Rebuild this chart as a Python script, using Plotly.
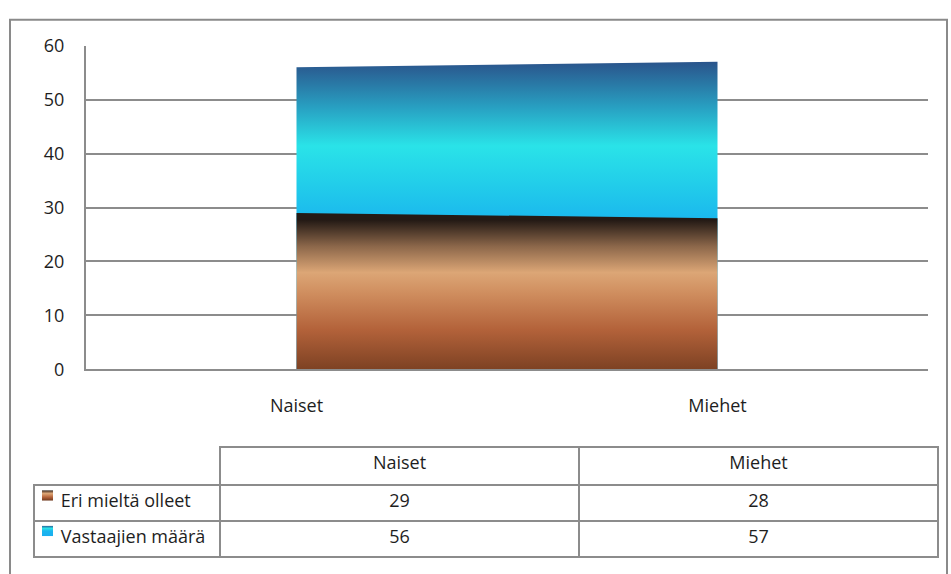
import base64
import plotly.graph_objects as go

categories = ["Naiset", "Miehet"]
series_names = ["Eri mieltä olleet", "Vastaajien määrä"]
eri_mielta = [29, 28]
vastaajat = [56, 57]
y_ticks = [0, 10, 20, 30, 40, 50, 60]

W, H = 951, 574
FONT = "Open Sans"
FS = 18
GRID = "#8c8c8c"
TXT = "#1e1e1e"
CLEAR = "rgba(0,0,0,0)"

def px(x):
    return x / W

def py(y):
    return 1 - y / H

blue_scale = [
    [0.0, "#1aaef0"],
    [0.50, "#1ab6ee"],
    [0.62, "#22cdea"],
    [0.74, "#2ae3e8"],
    [0.86, "#28a0c2"],
    [1.0, "#2a558c"],
]
brown_scale = [
    [0.0, "#6a361b"],
    [0.33, "#b3623a"],
    [0.55, "#cf8d5e"],
    [0.68, "#dca676"],
    [0.84, "#8c674a"],
    [1.0, "#241a15"],
]

fig = go.Figure()
fig.add_trace(go.Scatter(
    x=categories, y=vastaajat, name=series_names[1], mode="lines",
    line=dict(width=0), fill="tozeroy",
    fillgradient=dict(type="vertical", colorscale=blue_scale, start=0, stop=max(vastaajat)),
))
fig.add_trace(go.Scatter(
    x=categories, y=eri_mielta, name=series_names[0], mode="lines",
    line=dict(width=0), fill="tozeroy",
    fillgradient=dict(type="vertical", colorscale=brown_scale, start=0, stop=max(eri_mielta)),
))

NB = "\u00a0" * 4
row_labels = [NB + n for n in series_names]
col_values = [row_labels] + [[str(eri_mielta[i]), str(vastaajat[i])] for i in range(len(categories))]

fig.add_trace(go.Table(
    domain=dict(x=[px(34), px(938)], y=[py(572), py(453)]),
    columnwidth=[186, 359, 359],
    header=dict(
        values=[""] + categories,
        height=38,
        line=dict(color=[CLEAR, GRID, GRID], width=2),
        fill=dict(color=CLEAR),
        align="center",
        font=dict(family=FONT, size=FS, color=TXT),
    ),
    cells=dict(
        values=col_values,
        height=36,
        line=dict(color=GRID, width=2),
        fill=dict(color=CLEAR),
        align=["left", "center", "center"],
        font=dict(family=FONT, size=FS, color=TXT),
    ),
))


def key_image(scale):
    stops = "".join(
        f'<stop offset="{1 - s:.3f}" stop-color="{c}"/>' for s, c in reversed(scale)
    )
    svg = (
        '<svg xmlns="http://www.w3.org/2000/svg" width="12" height="12" '
        'viewBox="0 0 12 12" preserveAspectRatio="none">'
        f'<defs><linearGradient id="g" x1="0" y1="0" x2="0" y2="1">{stops}</linearGradient></defs>'
        '<rect x="0" y="0" width="12" height="12" fill="url(#g)"/></svg>'
    )
    return "data:image/svg+xml;base64," + base64.b64encode(svg.encode()).decode()


key_rows = [(brown_scale, 498), (blue_scale, 535)]
images = [
    dict(source=key_image(sc), xref="paper", yref="paper",
         x=px(42), y=py(top), sizex=11 / W, sizey=11 / H,
         xanchor="left", yanchor="top", sizing="stretch", layer="above")
    for sc, top in key_rows
]

fig.update_layout(
    width=W, height=H,
    margin=dict(l=0, r=0, t=0, b=0),
    paper_bgcolor="white", plot_bgcolor="white",
    showlegend=False,
    font=dict(family=FONT, size=FS, color=TXT),
    images=images,
    xaxis=dict(
        domain=[px(86), px(928)],
        type="category", range=[-0.5, 1.5],
        showgrid=False, zeroline=False,
        showline=True, linecolor=GRID, linewidth=2,
        ticks="", ticklabelstandoff=19,
        tickfont=dict(family=FONT, size=FS, color=TXT),
    ),
    yaxis=dict(
        domain=[py(372), py(34)],
        range=[0, 60], tickvals=y_ticks,
        showgrid=True, gridcolor=GRID, gridwidth=1.5,
        zeroline=False,
        showline=True, linecolor=GRID, linewidth=2,
        ticks="", ticklabelstandoff=16,
        tickfont=dict(family=FONT, size=FS, color=TXT),
    ),
    shapes=[dict(
        type="rect", xref="paper", yref="paper",
        x0=px(10), x1=px(947), y0=py(590), y1=py(7),
        line=dict(color="#8a8a8a", width=2), fillcolor=CLEAR,
    )],
)

fig.write_html("out.html")
